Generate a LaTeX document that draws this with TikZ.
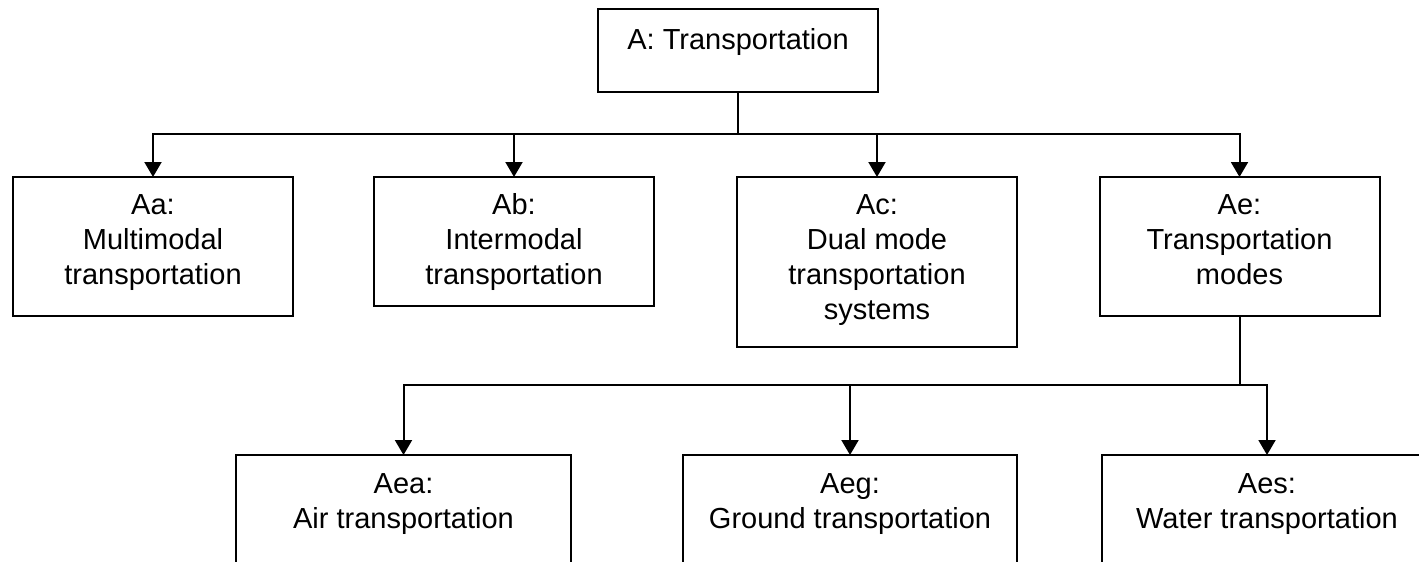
\documentclass[tikz,border=0pt]{standalone}
\usepackage{fontspec}
\setmainfont{Liberation Sans}
\usetikzlibrary{arrows.meta}
\begin{document}
\begin{tikzpicture}[x=0.5pt,y=-0.5pt,
  box/.style={draw=black,line width=1pt,inner sep=0pt,outer sep=0pt,minimum width=140pt},
  txt/.style={font=\fontsize{14.5}{17.5}\selectfont,align=center,inner sep=0pt,anchor=north,text=black},
  conn/.style={draw=black,line width=1pt},
  arr/.style={conn,-{Triangle[width=8.5pt,length=7.5pt]}}]
\useasboundingbox (0,0) rectangle (1419,562);
\fill[white] (0,0) rectangle (1419,562);
\clip (0,0) rectangle (1419,562);
% boxes
\node[box,minimum height=41.5pt] (A) at (738,50.5) {};
\node[box,minimum height=69.5pt] (Aa) at (153,246.5) {};
\node[box,minimum height=64.5pt] (Ab) at (514,241.5) {};
\node[box,minimum height=85pt] (Ac) at (877,262) {};
\node[box,minimum height=69.5pt] (Ae) at (1239.5,246.5) {};
\node[box,minimum width=167.5pt,minimum height=80pt] (Aea) at (403.5,535) {};
\node[box,minimum width=167pt,minimum height=80pt] (Aeg) at (850,535) {};
\node[box,minimum width=165pt,minimum height=80pt] (Aes) at (1267,535) {};
% texts
\node[txt] (tA) at ([yshift=-7.75pt]A.north) {\strut A: Transportation};
\node[txt] (tAa) at ([yshift=-6.25pt]Aa.north) {\strut Aa:\\ Multimodal\\ transportation};
\node[txt] (tAb) at ([yshift=-6.25pt]Ab.north) {\strut Ab:\\ Intermodal\\ transportation};
\node[txt] (tAc) at ([yshift=-6.25pt]Ac.north) {\strut Ac:\\ Dual mode\\ transportation\\ systems};
\node[txt] (tAe) at ([yshift=-6.25pt]Ae.north) {\strut Ae:\\ Transportation\\ modes};
\node[txt] (tAea) at ([yshift=-6.75pt]Aea.north) {\strut Aea:\\ Air transportation};
\node[txt] (tAeg) at ([yshift=-6.75pt]Aeg.north) {\strut Aeg:\\ Ground transportation};
\node[txt] (tAes) at ([yshift=-6.75pt]Aes.north) {\strut Aes:\\ Water transportation};
% connectors
\coordinate (b1) at (738,134);
\draw[conn] (A.south) -- (b1);
\draw[arr] (b1) -| (Aa.north);
\draw[arr] (b1) -| (Ab.north);
\draw[arr] (b1) -| (Ac.north);
\draw[arr] (b1) -| (Ae.north);
\coordinate (b2) at (1239.5,385);
\draw[conn] (Ae.south) -- (b2);
\draw[arr] (b2) -| (Aea.north);
\draw[arr] (b2) -| (Aeg.north);
\draw[arr] (b2) -| (Aes.north);
\end{tikzpicture}
\end{document}
